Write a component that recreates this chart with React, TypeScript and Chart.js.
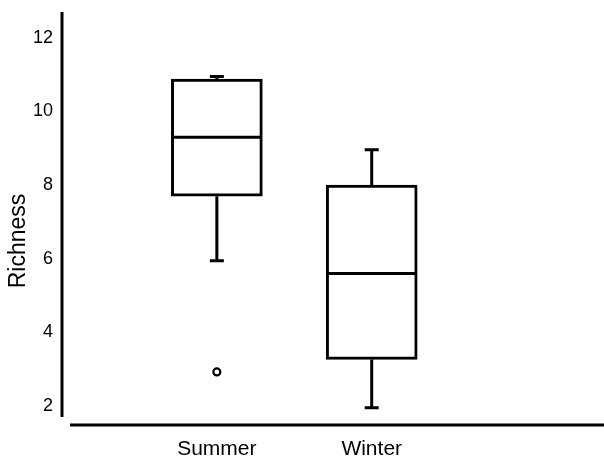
import React, { useEffect, useRef } from "react";
import { Chart, registerables } from "chart.js";

Chart.register(...registerables);

// ---- data ----
const categories = ["Summer", "Winter"];
const positions = [1, 2];
const whiskerLow = [5.95, 1.96];
const q1 = [7.7, 3.27];
const median = [9.3, 5.6];
const q3 = [10.88, 8.0];
const whiskerHigh = [10.95, 8.96];
const outlierX = [1];
const outlierY = [2.93];
const yTicks = [2, 4, 6, 8, 10, 12];
const yTitle = "Richness";

const FONT = "'Liberation Sans', Arial, Helvetica, sans-serif";
const INK = "#000000";

const boxPlugin = {
  id: "boxWhiskers",
  beforeDatasetsDraw(chart: any) {
    const { ctx, scales } = chart;
    const xs = scales.x;
    const ys = scales.y;
    ctx.save();
    ctx.strokeStyle = INK;
    ctx.lineWidth = 3;
    ctx.lineCap = "butt";
    positions.forEach((p, i) => {
      const x = xs.getPixelForValue(p);
      const yHi = ys.getPixelForValue(whiskerHigh[i]);
      const yQ3 = ys.getPixelForValue(q3[i]);
      const yQ1 = ys.getPixelForValue(q1[i]);
      const yLo = ys.getPixelForValue(whiskerLow[i]);
      ctx.beginPath();
      ctx.moveTo(x, yQ3);
      ctx.lineTo(x, yHi);
      ctx.moveTo(x, yQ1);
      ctx.lineTo(x, yLo);
      ctx.stroke();
      ctx.beginPath();
      ctx.moveTo(x - 7, yHi);
      ctx.lineTo(x + 7, yHi);
      ctx.moveTo(x - 7, yLo);
      ctx.lineTo(x + 7, yLo);
      ctx.stroke();
    });
    ctx.restore();
  },
  afterDatasetsDraw(chart: any) {
    const { ctx, scales } = chart;
    const xs = scales.x;
    const ys = scales.y;
    const meta = chart.getDatasetMeta(0);
    ctx.save();
    ctx.strokeStyle = INK;
    ctx.lineWidth = 3;
    positions.forEach((p, i) => {
      const bar = meta.data[i];
      const half = bar ? bar.width / 2 : 45;
      const x = xs.getPixelForValue(p);
      const y = ys.getPixelForValue(median[i]);
      ctx.beginPath();
      ctx.moveTo(x - half + 1, y);
      ctx.lineTo(x + half - 1, y);
      ctx.stroke();
    });
    ctx.restore();
  },
  afterDraw(chart: any) {
    const { ctx, chartArea } = chart;
    ctx.save();
    ctx.strokeStyle = INK;
    ctx.lineWidth = 3;
    ctx.beginPath();
    ctx.moveTo(chartArea.left, chartArea.top);
    ctx.lineTo(chartArea.left, chartArea.bottom - 8);
    ctx.stroke();
    ctx.beginPath();
    ctx.moveTo(chartArea.left + 8, chartArea.bottom);
    ctx.lineTo(chart.width, chartArea.bottom);
    ctx.stroke();
    // y title
    ctx.translate(19, 241);
    ctx.rotate(-Math.PI / 2);
    ctx.fillStyle = INK;
    ctx.font = `23px ${FONT}`;
    ctx.textAlign = "center";
    ctx.textBaseline = "middle";
    ctx.fillText(yTitle, 0, 0);
    ctx.restore();
  },
};

const zeroPad = (s: any) => {
  s.paddingTop = 0;
  s.paddingBottom = 0;
  s.paddingLeft = 0;
  s.paddingRight = 0;
};

export default function App() {
  const ref = useRef<HTMLCanvasElement | null>(null);

  useEffect(() => {
    if (!ref.current) return;
    const chart = new Chart(ref.current, {
      type: "bar",
      data: {
        datasets: [
          {
            type: "bar",
            data: positions.map((x, i) => ({ x, y: [q1[i], q3[i]] })) as any,
            backgroundColor: "#ffffff",
            borderColor: INK,
            borderWidth: 3,
            borderSkipped: false,
            barThickness: 91,
            grouped: false,
          } as any,
          {
            type: "scatter",
            data: outlierX.map((x, i) => ({ x, y: outlierY[i] })),
            pointRadius: 3.5,
            pointBorderWidth: 2.2,
            borderColor: INK,
            backgroundColor: "#ffffff",
            pointBackgroundColor: "#ffffff",
            pointBorderColor: INK,
          } as any,
        ],
      },
      options: {
        responsive: false,
        animation: false,
        events: [],
        layout: { autoPadding: false, padding: { top: 12, left: 0, right: 0, bottom: 0 } },
        plugins: { legend: { display: false }, tooltip: { enabled: false } },
        scales: {
          x: {
            type: "linear",
            min: 0,
            max: 3.5,
            offset: false,
            grid: { display: false, drawTicks: false },
            border: { display: false },
            afterBuildTicks: (s: any) => {
              s.ticks = positions.map((v) => ({ value: v }));
            },
            afterFit: (s: any) => {
              s.height = 33;
              zeroPad(s);
            },
            ticks: {
              autoSkip: false,
              maxRotation: 0,
              padding: 12,
              color: INK,
              font: { family: FONT, size: 21 },
              callback: (v: any) => categories[positions.indexOf(Number(v))] ?? "",
            },
          },
          y: {
            type: "linear",
            min: 1.49,
            max: 12.7,
            grid: { display: false, drawTicks: false },
            border: { display: false },
            afterBuildTicks: (s: any) => {
              s.ticks = yTicks.map((v) => ({ value: v }));
            },
            afterFit: (s: any) => {
              s.width = 62;
              zeroPad(s);
            },
            ticks: {
              padding: 9,
              color: INK,
              font: { family: FONT, size: 18 },
            },
          },
        },
      } as any,
      plugins: [boxPlugin],
    });
    return () => chart.destroy();
  }, []);

  return (
    <div style={{ position: "fixed", left: 0, top: 0, width: 604, height: 458, background: "#fff" }}>
      <canvas ref={ref} width={604} height={458} />
    </div>
  );
}
